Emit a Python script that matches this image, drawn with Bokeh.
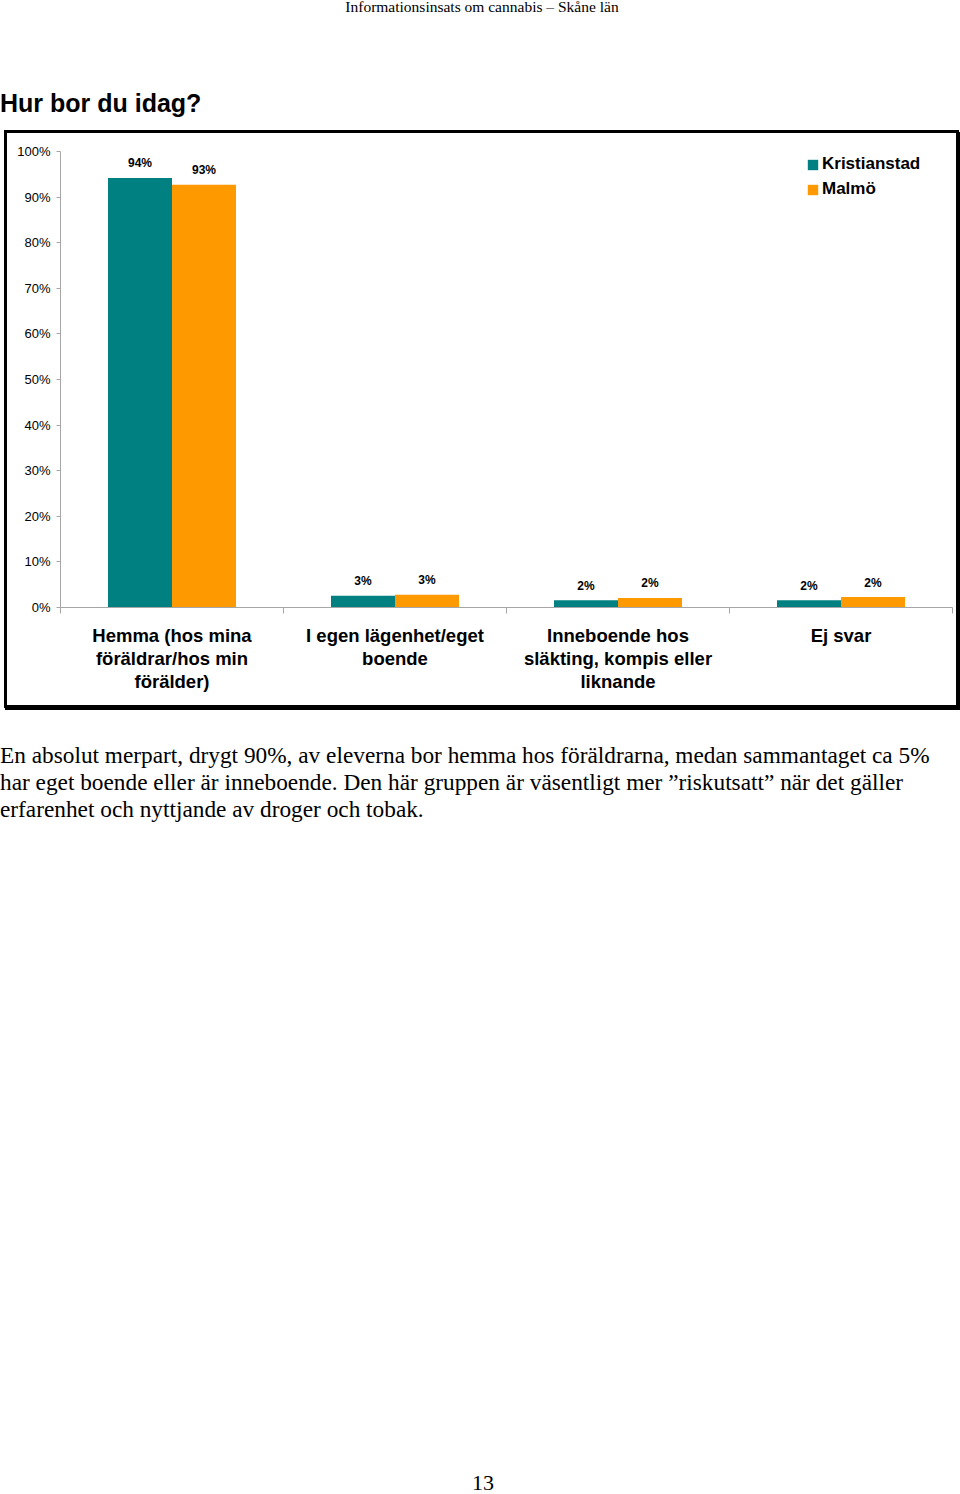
from bokeh.plotting import figure
from bokeh.models import Range1d, FixedTicker, ColumnDataSource, Div
from bokeh.layouts import column
from bokeh.core.properties import value
from bokeh.embed import file_html
from bokeh.resources import INLINE

# ---------------- data ----------------
categories = [
    "Hemma (hos mina\nföräldrar/hos min\nförälder)",
    "I egen lägenhet/eget\nboende",
    "Inneboende hos\nsläkting, kompis eller\nliknande",
    "Ej svar",
]
series_names = ["Kristianstad", "Malmö"]
kristianstad = [94.2, 2.6, 1.6, 1.6]
malmo = [92.7, 2.8, 2.1, 2.3]
y_ticks = [0, 10, 20, 30, 40, 50, 60, 70, 80, 90, 100]
y_tick_labels = [f"{t}%" for t in y_ticks]

header_text = "Informationsinsats om cannabis – Skåne län"
title_text = "Hur bor du idag?"
paragraph_lines = [
    "En absolut merpart, drygt 90%, av eleverna bor hemma hos föräldrarna, medan sammantaget ca 5%",
    "har eget boende eller är inneboende. Den här gruppen är väsentligt mer ”riskutsatt” när det gäller",
    "erfarenhet och nyttjande av droger och tobak.",
]
page_number = "13"

# ---------------- styling ----------------
N = len(categories)
TEAL = "#008080"
ORANGE = "#FF9900"
AX = "#a6a6a6"
SANS = "Liberation Sans"
SERIF = "Liberation Serif"

TOP_H = 133          # page area above the chart box interior
FIG_X, FIG_W, FIG_H = 7, 949, 572
BOTTOM_H = 1494 - TOP_H - FIG_H


def line_html(text, top, font, size, left=0, width=None, align="left", weight="normal"):
    w = f"width:{width}px;" if width else ""
    return (f'<div style="position:absolute;left:{left}px;top:{top}px;{w}'
            f'font-family:\'{font}\';font-size:{size}px;line-height:{size}px;'
            f'font-weight:{weight};text-align:{align};white-space:nowrap;color:#000;">'
            f'{text}</div>')


top_html = ('<div style="position:relative;width:960px;height:%dpx;margin:0;padding:0;">' % TOP_H
            + line_html(header_text, -1, SERIF, 15.5, left=2, width=960, align="center")
            + line_html(title_text, 91.1, SANS, 25, weight="bold")
            + '</div>')

bottom_parts = []
for j, line in enumerate(paragraph_lines):
    bottom_parts.append(line_html(line, 38.8 + 27 * j, SERIF, 23.3))
bottom_parts.append(line_html(page_number, 766.6, SERIF, 22, left=3, width=960, align="center"))
bottom_html = ('<div style="position:relative;width:960px;height:%dpx;margin:0;padding:0;">' % BOTTOM_H
               + "".join(bottom_parts) + '</div>')

top_div = Div(text=top_html, width=960, height=TOP_H, margin=(0, 0, 0, 0))
bottom_div = Div(text=bottom_html, width=960, height=BOTTOM_H, margin=(0, 0, 0, 0))

# ---------------- chart ----------------
p = figure(width=FIG_W, height=FIG_H, output_backend="svg", toolbar_location=None,
           x_range=Range1d(0, N), y_range=Range1d(0, 100),
           min_border_left=53, min_border_right=4, min_border_top=18, min_border_bottom=98,
           margin=(0, 0, 0, FIG_X))
p.styles = {"box-shadow": "0 0 0 3px #000, 1px 2px 0 3px #000"}
p.outline_line_color = None
p.xgrid.visible = False
p.ygrid.visible = False
p.background_fill_color = "white"
p.border_fill_color = "white"

off = 0.1435
bw = 0.287
src_k = ColumnDataSource(dict(x=[i + 0.5 - off for i in range(N)], top=kristianstad,
                              lab=[f"{v:.0f}%" for v in kristianstad]))
src_m = ColumnDataSource(dict(x=[i + 0.5 + off for i in range(N)], top=malmo,
                              lab=[f"{v:.0f}%" for v in malmo]))
p.vbar(x="x", top="top", width=bw, bottom=0, source=src_k, fill_color=TEAL,
       line_color=None, legend_label=series_names[0])
p.vbar(x="x", top="top", width=bw, bottom=0, source=src_m, fill_color=ORANGE,
       line_color=None, legend_label=series_names[1])
for s in (src_k, src_m):
    p.text(x="x", y="top", text="lab", source=s, y_offset=-14.5, text_align="center",
           text_baseline="middle", text_font=value(SANS), text_font_style="bold",
           text_font_size="12px", text_color="black")

ya = p.yaxis[0]
ya.ticker = FixedTicker(ticks=y_ticks)
ya.major_label_overrides = {t: l for t, l in zip(y_ticks, y_tick_labels)}
ya.axis_line_color = AX
ya.major_tick_line_color = AX
ya.major_tick_in = 0
ya.major_tick_out = 4
ya.minor_tick_line_color = None
ya.major_label_standoff = 6
ya.major_label_text_font = SANS
ya.major_label_text_font_size = "13px"
ya.major_label_text_color = "black"

xa = p.xaxis[0]
centers = [i + 0.5 for i in range(N)]
xa.ticker = FixedTicker(ticks=centers, minor_ticks=list(range(N + 1)))
xa.major_label_overrides = {c: lab for c, lab in zip(centers, categories)}
xa.axis_line_color = AX
xa.major_tick_line_color = None
xa.major_tick_in = 0
xa.major_tick_out = 0
xa.minor_tick_line_color = AX
xa.minor_tick_in = 0
xa.minor_tick_out = 6
xa.major_label_standoff = 11
xa.major_label_text_font = SANS
xa.major_label_text_font_style = "bold"
xa.major_label_text_font_size = "18.5px"
xa.major_label_text_color = "black"
xa.major_label_text_line_height = 1.115

lg = p.legend[0]
lg.location = "top_right"
lg.margin = 0
lg.padding = 3
lg.glyph_width = 13
lg.glyph_height = 13
lg.label_standoff = 3
lg.label_width = 127
lg.label_height = 20
lg.spacing = 5
lg.label_text_font = SANS
lg.label_text_font_style = "bold"
lg.label_text_font_size = "17px"
lg.label_text_color = "black"
lg.border_line_alpha = 0
lg.background_fill_alpha = 0

layout = column(top_div, p, bottom_div, spacing=0)
open("out.html", "w").write(file_html(layout, INLINE))
